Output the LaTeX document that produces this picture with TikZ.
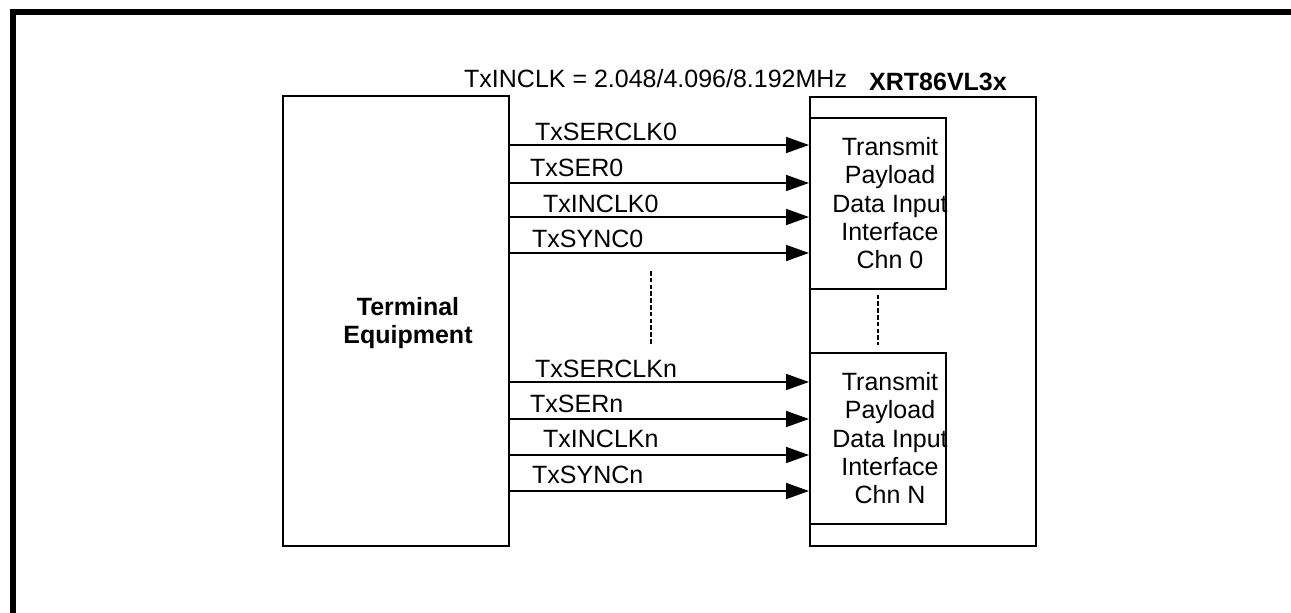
\documentclass[tikz,border=0pt]{standalone}
\usepackage{fontspec}
\setmainfont{Liberation Sans}
\usetikzlibrary{arrows.meta}
\tikzset{
  blk/.style={draw, line width=1.6pt, rectangle, inner sep=0pt, anchor=north west},
  sig/.style={line width=1.6pt, -{Triangle[length=23pt,width=16pt]}},
  lbl/.style={inner sep=0pt, anchor=base west, font=\fontsize{25}{28}\selectfont},
  blktxt/.style={inner sep=0pt, anchor=north, align=center, font=\fontsize{25}{28.3}\selectfont},
  dots/.style={line width=1.6pt, dash pattern=on 4.5pt off 2.3pt},
}
\begin{document}
\begin{tikzpicture}[x=1pt,y=-1pt]
\useasboundingbox (0,0) rectangle (1291,613);
% frame
\draw[line width=6pt, line join=miter] (13,613) -- (13,12) -- (1291,12);
% blocks
\node[blk, minimum width=226pt, minimum height=450pt] (te) at (282,95) {};
\node[blk, minimum width=226pt, minimum height=449pt] (xrt) at (809,96) {};
\node[blk, minimum width=136pt, minimum height=171pt] (ch0) at (809,117) {};
\node[blk, minimum width=136pt, minimum height=171pt] (chN) at (809,352) {};
% block texts
\node[blktxt, font=\fontsize{25}{28}\selectfont\bfseries] (tetxt) at (408,297) {Terminal\\Equipment};
\node[lbl, font=\fontsize{25}{28}\selectfont\bfseries] (xrttxt) at (869,90) {XRT86VL3x};
\node[lbl] (clk) at (464,87) {TxINCLK = 2.048/4.096/8.192MHz};
\node[blktxt] (ch0txt) at (890,137.1) {Transmit\\Payload\\Data Input\\Interface\\Chn 0};
\node[blktxt] (chNtxt) at (890,372.1) {Transmit\\Payload\\Data Input\\Interface\\Chn N};
% channel 0 signals
\draw[sig] ([yshift=-50pt]te.north east) -- ([yshift=-50pt]te.north east -| ch0.west);
\draw[sig] ([yshift=-88pt]te.north east) -- ([yshift=-88pt]te.north east -| ch0.west);
\draw[sig] ([yshift=-122pt]te.north east) -- ([yshift=-122pt]te.north east -| ch0.west);
\draw[sig] ([yshift=-158pt]te.north east) -- ([yshift=-158pt]te.north east -| ch0.west);
\node[lbl] (l1) at (535,140) {TxSERCLK0};
\node[lbl] (l2) at (530,176) {TxSER0};
\node[lbl] (l3) at (543,212) {TxINCLK0};
\node[lbl] (l4) at (532,247) {TxSYNC0};
% channel N signals
\draw[sig] ([yshift=-287pt]te.north east) -- ([yshift=-287pt]te.north east -| chN.west);
\draw[sig] ([yshift=-324pt]te.north east) -- ([yshift=-324pt]te.north east -| chN.west);
\draw[sig] ([yshift=-360pt]te.north east) -- ([yshift=-360pt]te.north east -| chN.west);
\draw[sig] ([yshift=-396pt]te.north east) -- ([yshift=-396pt]te.north east -| chN.west);
\node[lbl] (l5) at (535,377) {TxSERCLKn};
\node[lbl] (l6) at (530,412) {TxSERn};
\node[lbl] (l7) at (543,447) {TxINCLKn};
\node[lbl] (l8) at (532,483) {TxSYNCn};
% continuation dots
\coordinate (d1) at (651,271);
\coordinate (d2) at (651,345);
\draw[dots] (d1) -- (d2);
\draw[dots] ([yshift=-5pt]ch0.south) -- ([yshift=7pt]chN.north);
\end{tikzpicture}
\end{document}
